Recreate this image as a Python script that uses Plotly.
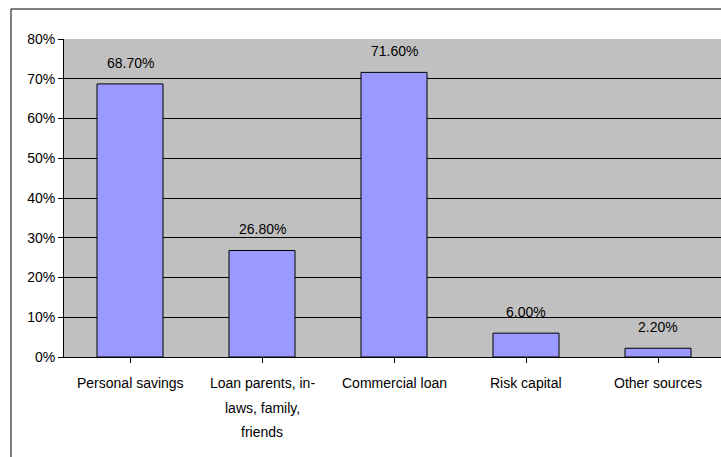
import plotly.graph_objects as go

# Sources of start-up financing (share of respondents)
categories = [
    "Personal savings",
    "Loan parents, in-<br>laws, family,<br>friends",
    "Commercial loan",
    "Risk capital",
    "Other sources",
]
shares = [0.687, 0.268, 0.716, 0.060, 0.022]
y_ticks = [0.0, 0.1, 0.2, 0.3, 0.4, 0.5, 0.6, 0.7, 0.8]

FONT = "Liberation Sans, Arial, sans-serif"
FS = 14
W, H = 721, 457
ML, MR, MT, MB = 64, 0, 39, 100
plot_w = W - ML - MR
plot_h = H - MT - MB
cat_px = 132  # pixel width of one category slot

x_pos = list(range(len(categories)))

fig = go.Figure(
    go.Bar(
        x=x_pos,
        y=shares,
        width=0.5,
        marker=dict(color="#9999FF", line=dict(color="#000000", width=1)),
        hoverinfo="skip",
    )
)

annotations = []
# value labels above each bar
for x, v in zip(x_pos, shares):
    annotations.append(dict(
        x=x, y=v, xref="x", yref="y", text=f"{v * 100:.2f}%",
        showarrow=False, yanchor="middle", yshift=21,
        font=dict(family=FONT, size=FS, color="#000000"),
    ))
# category labels, one annotation per wrapped line
for x, label in zip(x_pos, categories):
    for i, line in enumerate(label.split("<br>")):
        annotations.append(dict(
            x=x, y=0, xref="x", yref="paper", text=line,
            showarrow=False, yanchor="middle", yshift=-26 - 24.5 * i,
            font=dict(family=FONT, size=FS, color="#000000"),
        ))

# chart-area border (top and left edges visible)
border_x0 = (11 - ML) / plot_w
border_y1 = (H - MB - 9) / plot_h
shapes = [
    dict(type="line", xref="paper", yref="paper", x0=border_x0, x1=1.2,
         y0=border_y1, y1=border_y1, line=dict(color="#000000", width=1)),
    dict(type="line", xref="paper", yref="paper", x0=border_x0, x1=border_x0,
         y0=-0.5, y1=border_y1, line=dict(color="#000000", width=1)),
]

fig.update_layout(
    width=W, height=H,
    margin=dict(l=ML, r=MR, t=MT, b=MB, pad=0),
    paper_bgcolor="#FFFFFF",
    plot_bgcolor="#C0C0C0",
    showlegend=False,
    font=dict(family=FONT, size=FS, color="#000000"),
    annotations=annotations,
    shapes=shapes,
    bargap=0.5,
)

fig.update_xaxes(
    range=[-0.5, -0.5 + plot_w / cat_px],
    tickmode="array", tickvals=x_pos, ticktext=[""] * len(x_pos),
    showgrid=False, zeroline=False,
    showline=True, linecolor="#000000", linewidth=1,
    ticks="outside", ticklen=5, tickcolor="#000000", tickwidth=1,
    tickson="boundaries",
    fixedrange=True,
)

fig.update_yaxes(
    range=[0, 0.8],
    tickmode="array", tickvals=y_ticks, tickformat=".0%",
    showgrid=True, gridcolor="#000000", gridwidth=1,
    zeroline=False,
    showline=True, linecolor="#000000", linewidth=1,
    ticks="outside", ticklen=5, tickcolor="#000000", tickwidth=1,
    tickfont=dict(family=FONT, size=FS, color="#000000"),
    fixedrange=True,
)

fig.write_html("out.html")
